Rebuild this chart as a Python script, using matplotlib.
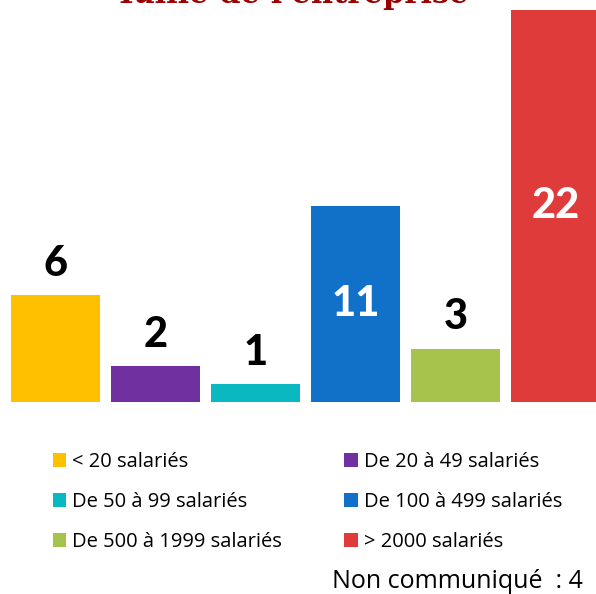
import matplotlib.pyplot as plt
from matplotlib.patches import Patch

# data
categories = ['< 20 salariés', 'De 20 à 49 salariés', 'De 50 à 99 salariés',
              'De 100 à 499 salariés', 'De 500 à 1999 salariés', '> 2000 salariés']
counts = [6, 2, 1, 11, 3, 22]
colors = ['#FFC000', '#7030A0', '#0AB8C2', '#1170C8', '#A6C44C', '#E03B3B']
non_communique = 4

plt.rcParams['font.family'] = ['Open Sans', 'DejaVu Sans']

fig = plt.figure(figsize=(5.96, 5.94), dpi=100)
# axes spans full width, from bar baseline up to the top edge
ax = fig.add_axes([0, 1 - 402 / 594, 1, 402 / 594])

x = list(range(len(counts)))
ax.bar(x, counts, width=0.89, color=colors)
ax.set_xlim(-0.555, 5.405)
ax.set_ylim(0, 22 * 402 / 392)
ax.axis('off')

# value labels: inside the tall bars, above the short ones
for xi, v in zip(x, counts):
    if v > 8:
        ax.text(xi, v / 2, str(v), ha='center', va='center', color='white',
                fontsize=30, fontweight='black', family='Lato')
    else:
        ax.text(xi, v + 1.75, str(v), ha='center', va='center', color='black',
                fontsize=30, fontweight='black', family='Lato')

fig.text(0.49, 1 - 3 / 594, "Taille de l'entreprise", ha='center', va='baseline',
         color='#990000', fontsize=22, fontweight='bold', family='DejaVu Serif')

# legend, row-wise order
handles = [Patch(facecolor=c, edgecolor='none') for c in colors]
order = [0, 2, 4, 1, 3, 5]
fig.legend([handles[i] for i in order], [categories[i] for i in order],
           ncol=2, loc='upper left', bbox_to_anchor=(53 / 596, 1 - 452 / 594),
           frameon=False, fontsize=14.5, handlelength=0.65, handleheight=0.65,
           handletextpad=0.3, columnspacing=3.1, labelspacing=1.0,
           borderaxespad=0, borderpad=0)

fig.text(583 / 596, 1 - 581 / 594, 'Non communiqué  : %d' % non_communique,
         ha='right', va='center', fontsize=18)

fig.savefig('out.png', dpi=100)
